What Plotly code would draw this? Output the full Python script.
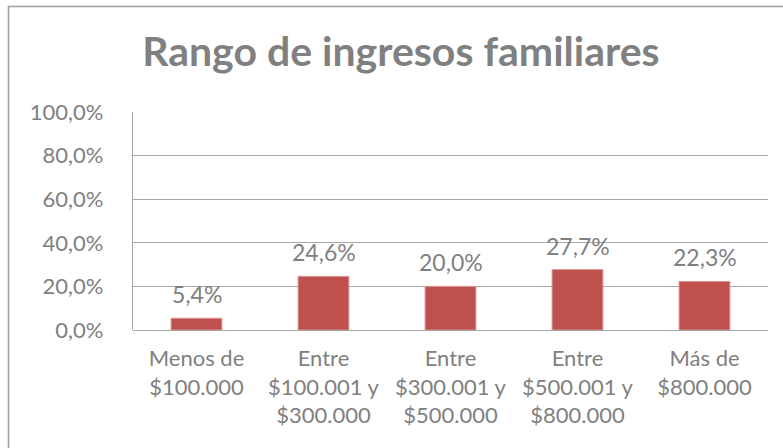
import plotly.graph_objects as go

categories = ["Menos de<br>$100.000", "Entre<br>$100.001 y<br>$300.000",
              "Entre<br>$300.001 y<br>$500.000", "Entre<br>$500.001 y<br>$800.000",
              "Más de<br>$800.000"]
values = [5.4, 24.6, 20.0, 27.7, 22.3]
tick_vals = [0, 20, 40, 60, 80, 100]
tick_text = ["0,0%", "20,0%", "40,0%", "60,0%", "80,0%", "100,0%"]
title_text = "Rango de ingresos familiares"

FONT = "Lato"
GRAY = "#808080"

fig = go.Figure()
fig.add_trace(go.Bar(
    x=categories, y=values,
    marker=dict(color="#C0504D", line=dict(color="#D99694", width=1)),
    width=0.4, hoverinfo="skip",
))

for c, v in zip(categories, values):
    fig.add_annotation(x=c, y=v, xref="x", yref="y",
                       text=f"{v:.1f}".replace(".", ",") + "%",
                       showarrow=False, yanchor="middle", yshift=24,
                       font=dict(family=FONT, size=23, color=GRAY))

# outer chart frame
L, T, W, H = 133, 112, 635, 218
def px_x(p):
    return (p - L) / W
def px_y(p):
    return 1 - (p - T) / H
fig.add_shape(type="rect", xref="paper", yref="paper",
              x0=px_x(8.5), x1=px_x(800), y0=px_y(6.5), y1=px_y(460),
              line=dict(color="#A0A0A0", width=1.6), fillcolor="rgba(0,0,0,0)", layer="below")

fig.update_layout(
    width=783, height=448,
    margin=dict(l=L, r=783 - L - W, t=T, b=448 - T - H, autoexpand=False),
    paper_bgcolor="white", plot_bgcolor="white",
    showlegend=False,
    title=dict(text=title_text, x=0.512, xanchor="center", y=1 - 52 / 448, yanchor="middle",
               font=dict(family=FONT, size=41, color=GRAY, weight="bold")),
    font=dict(family=FONT, color=GRAY),
)
fig.update_yaxes(range=[0, 100], tickvals=tick_vals, ticktext=tick_text,
                 showgrid=True, gridcolor="#A6A6A6", gridwidth=1.3,
                 zeroline=True, zerolinecolor="#A6A6A6", zerolinewidth=1.3,
                 showline=True, linecolor="#A6A6A6", linewidth=1.3,
                 ticklabelstandoff=24,
                 tickfont=dict(family=FONT, size=22, color=GRAY), fixedrange=True)
fig.update_xaxes(showgrid=False, showline=False, ticks="", ticklabelstandoff=13,
                 tickfont=dict(family=FONT, size=22, color=GRAY), fixedrange=True)

fig.write_html("out.html", config={"displayModeBar": False},
               post_script="document.body.style.margin='0';")
